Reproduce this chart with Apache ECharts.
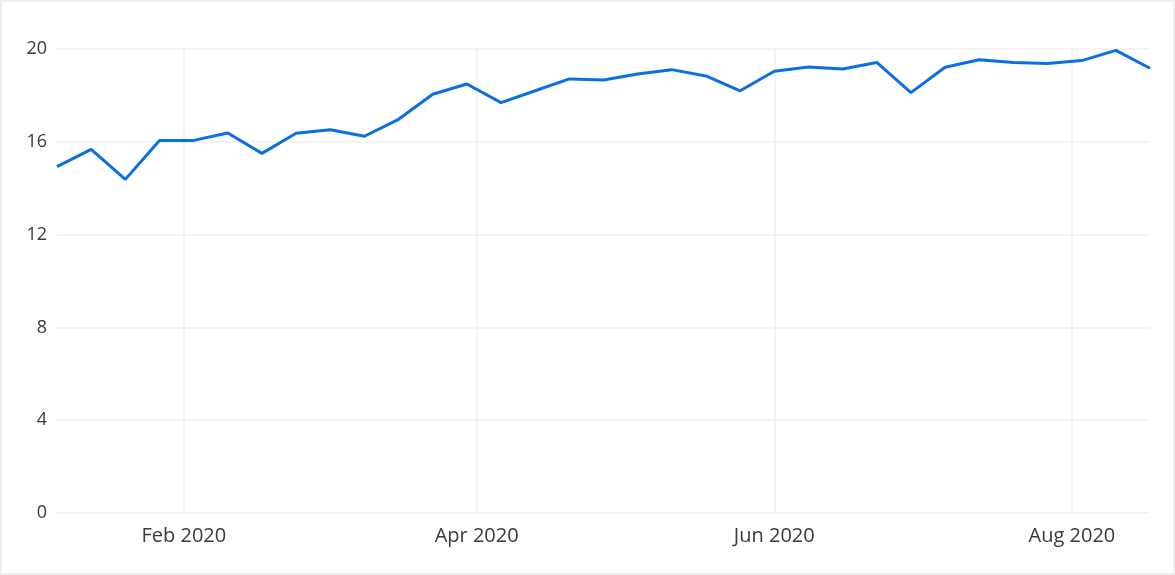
<!DOCTYPE html>
<html>
<head>
<meta charset="utf-8">
<script src="https://cdn.jsdelivr.net/npm/echarts@6/dist/echarts.min.js"></script>
<style>
html,body{margin:0;padding:0;background:#fff;}
#chart{width:1175px;height:575px;box-sizing:border-box;border:2px solid #eeeeee;}
</style>
</head>
<body>
<div id="chart"></div>
<script>
// Weekly dates (Mondays) starting 2020-01-06
const startDate = [2020, 0, 6];
const weekCount = 33;
const values = [14.93, 15.67, 14.38, 16.06, 16.06, 16.38, 15.50, 16.37, 16.52, 16.24,
  16.97, 18.05, 18.49, 17.69, 18.20, 18.71, 18.66, 18.92, 19.11, 18.84,
  18.20, 19.04, 19.22, 19.14, 19.42, 18.12, 19.21, 19.54, 19.42, 19.38,
  19.50, 19.94, 19.17];
const tickMonths = [[2020, 1, 1], [2020, 3, 1], [2020, 5, 1], [2020, 7, 1]];
const monthNames = ['Jan','Feb','Mar','Apr','May','Jun','Jul','Aug','Sep','Oct','Nov','Dec'];
const yTicks = [0, 4, 8, 12, 16, 20];

const dates = [];
for (let i = 0; i < weekCount; i++) {
  dates.push(new Date(startDate[0], startDate[1], startDate[2] + 7 * i).getTime());
}
const seriesData = dates.map((d, i) => [d, values[i]]);
const tickVals = tickMonths.map(m => new Date(m[0], m[1], m[2]).getTime());

const chart = echarts.init(document.getElementById('chart'), null, {renderer: 'canvas'});
chart.setOption({
  animation: false,
  grid: {left: 55, right: 23, top: 47, bottom: 60, containLabel: false},
  xAxis: {
    type: 'value',
    min: dates[0],
    max: dates[dates.length - 1],
    axisLine: {show: false},
    axisTick: {show: false, customValues: tickVals},
    splitLine: {show: true, lineStyle: {color: '#efefef', width: 1.5}},
    axisLabel: {
      customValues: tickVals,
      color: '#3a3a3a',
      fontFamily: 'Open Sans',
      fontSize: 20,
      margin: 13,
      formatter: function (v) {
        const d = new Date(v);
        return monthNames[d.getMonth()] + ' ' + d.getFullYear();
      }
    }
  },
  yAxis: {
    type: 'value',
    min: yTicks[0],
    max: yTicks[yTicks.length - 1],
    interval: yTicks[1] - yTicks[0],
    axisLine: {show: false},
    axisTick: {show: false},
    splitLine: {show: true, lineStyle: {color: '#efefef', width: 1.5}},
    axisLabel: {color: '#3a3a3a', fontFamily: 'Open Sans', fontSize: 18, margin: 10}
  },
  series: [{
    type: 'line',
    data: seriesData,
    showSymbol: false,
    symbol: 'none',
    lineStyle: {color: '#0a6fe3', width: 3},
    itemStyle: {color: '#0a6fe3'}
  }]
});
</script>
</body>
</html>
